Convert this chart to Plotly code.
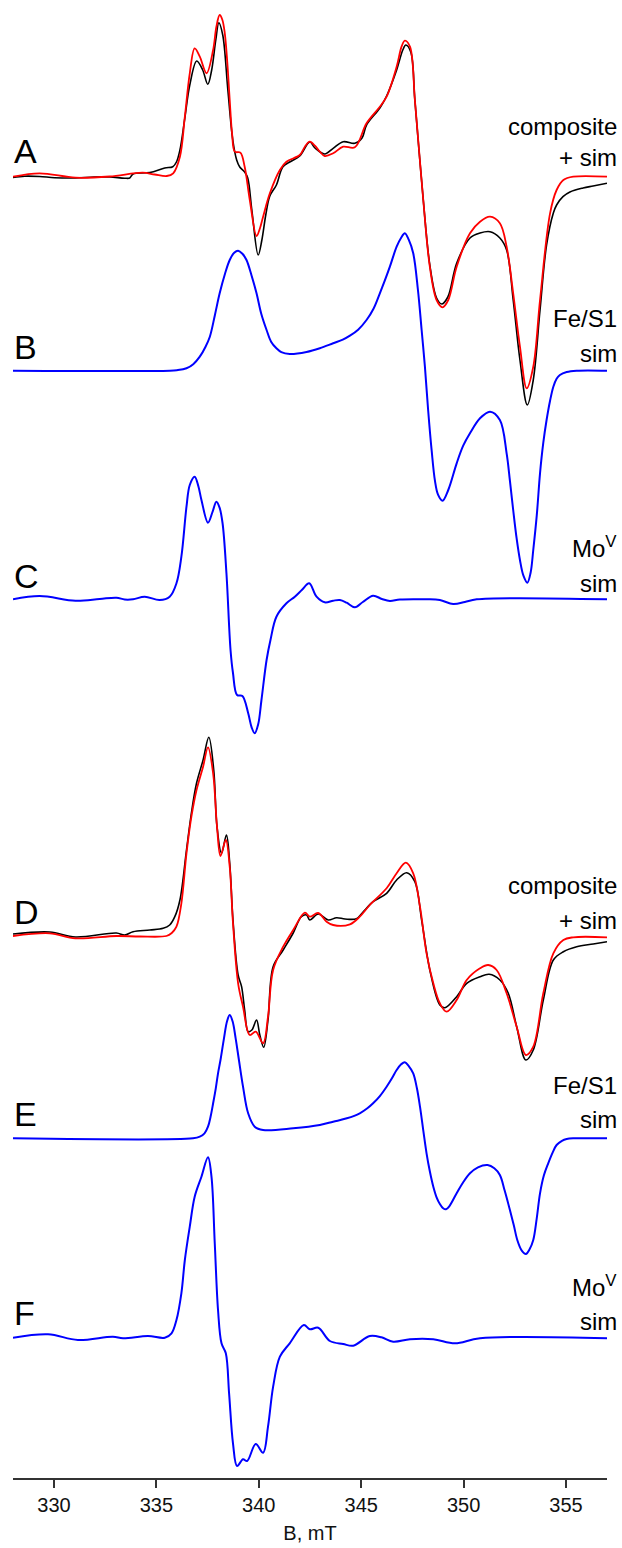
import plotly.graph_objects as go

# ---------------- data (B in mT, intensity in arbitrary units rel. to each trace's baseline) -------------
A_exp_B = [328.00, 328.57, 329.30, 330.03, 331.05, 331.95, 332.72, 333.45, 333.70, 333.86, 334.68, 335.41, 335.80, 335.98,
           336.15, 336.39, 336.63, 336.97, 337.26, 337.51, 337.70, 337.90, 338.05, 338.24, 338.49, 338.73, 338.92, 339.07,
           339.31, 339.46, 339.66, 339.97, 340.15, 340.34, 340.54, 340.86, 341.17, 341.51, 342.00, 342.49, 342.74, 343.22,
           343.63, 344.12, 344.69, 345.04, 345.26, 345.91, 346.24, 346.73, 347.03, 347.18, 347.42, 347.62, 348.03, 348.35,
           348.68, 348.93, 349.23, 349.66, 350.31, 350.80, 351.29, 351.77, 352.10, 352.42, 352.75, 353.11, 353.40, 353.73,
           354.05, 354.38, 354.54, 354.85, 355.19, 355.83, 356.32, 357.00]
A_exp_I = [-0.8, 0.5, 0.2, -1.0, -1.3, -0.3, -0.3, -1.5, -1.3, 2.7, 4.2, 8.7, 10.0, 14.7,
           26.7, 58.7, 91.7, 115.7, 106.7, 92.4, 106.7, 136.7, 154.0, 141.7, 86.7, 36.7, 16.7, 9.7,
           4.7, -1.3, -33.3, -78.3, -63.3, -38.3, -19.3, -8.3, 9.7, 14.7, 20.7, 34.7, 28.7, 22.7,
           28.4, 35.0, 33.4, 38.7, 51.7, 68.7, 80.7, 106.7, 126.7, 131.7, 124.7, 76.7, -23.3, -88.3,
           -121.3, -127.3, -120.3, -86.6, -61.3, -56.3, -55.0, -61.3, -73.3, -123.3, -183.3, -228.3, -203.3, -133.3,
           -68.3, -36.3, -28.3, -20.0, -15.3, -11.3, -9.3, -6.6]

A_sim_B = [328.00, 329.30, 331.05, 332.72, 334.33, 334.92, 335.51, 335.82, 336.15, 336.39, 336.63, 336.87, 337.12, 337.45,
           337.77, 337.93, 338.09, 338.22, 338.34, 338.46, 338.58, 338.70, 338.83, 339.10, 339.31, 339.56, 339.89, 340.05,
           340.21, 340.54, 341.03, 341.35, 342.00, 342.25, 342.49, 342.74, 342.98, 343.22, 343.63, 344.12, 344.69, 345.26,
           345.91, 346.24, 346.73, 346.97, 347.13, 347.38, 347.62, 347.83, 348.03, 348.35, 348.68, 348.97, 349.25, 349.66,
           350.31, 350.80, 351.29, 351.77, 352.10, 352.42, 352.75, 353.08, 353.40, 353.73, 354.22, 354.54, 354.87, 355.35,
           357.00]
A_sim_I = [0, 3.4, -1.0, 0.2, 4.0, 2.2, 0.7, 3.4, 20.0, 60.0, 103.4, 128.4, 120.0, 103.4,
           126.7, 150.0, 161.7, 157.0, 143.4, 115.0, 76.7, 42.0, 25.0, 24.0, 10.0, -23.3, -59.3, -52.0,
           -40.0, -16.6, 6.7, 15.0, 21.7, 30.0, 35.0, 31.0, 25.0, 20.7, 23.4, 30.0, 29.4, 53.4,
           70.0, 80.0, 110.0, 130.0, 136.0, 130.0, 76.7, 25.0, -23.3, -90.0, -123.3, -130.6, -123.3, -90.0,
           -56.6, -45.0, -40.0, -46.6, -70.0, -116.6, -170.0, -211.6, -190.0, -123.3, -36.6, -13.3, -3.3, 0,
           0]

B_sim_B = [328.00, 335.65, 336.00, 336.47, 336.80, 337.12, 337.40, 337.61, 337.85, 338.09, 338.35, 338.58, 338.80, 338.99,
           339.20, 339.40, 339.65, 339.89, 340.12, 340.38, 340.60, 340.86, 341.10, 341.51, 342.33, 342.98, 343.63, 344.10,
           344.45, 344.85, 345.26, 345.60, 345.91, 346.15, 346.40, 346.73, 346.95, 347.13, 347.32, 347.54, 347.77, 347.95,
           348.11, 348.27, 348.44, 348.60, 348.75, 348.97, 349.25, 349.66, 349.98, 350.31, 350.80, 351.29, 351.77, 352.10,
           352.26, 352.42, 352.59, 352.75, 352.92, 353.11, 353.27, 353.40, 353.57, 353.73, 353.89, 354.05, 354.22, 354.38,
           354.54, 354.70, 355.03, 355.52, 357.00]
B_sim_I = [0, 0, 0.5, 2.4, 6.5, 14.0, 24.0, 34.0, 55.0, 77.4, 97.0, 110.7, 118.0, 120.0,
           117.0, 110.7, 95.0, 77.4, 57.0, 40.7, 29.0, 22.4, 18.5, 16.7, 18.7, 22.4, 27.4, 31.0,
           35.0, 41.0, 50.7, 62.0, 77.4, 90.0, 104.0, 124.0, 133.0, 137.4, 131.0, 117.4, 80.7, 40.7,
           4.0, -40.0, -80.0, -110.0, -124.0, -130.0, -119.3, -92.6, -75.0, -62.6, -47.6, -41.0, -49.3, -82.6,
           -110.0, -139.3, -168.0, -189.3, -205.0, -212.0, -202.0, -179.3, -145.0, -102.6, -72.0, -49.3, -30.0, -16.0,
           -8.0, -4.3, -1.3, 0, 0]

C_sim_B = [328.00, 329.30, 331.05, 332.23, 333.05, 333.45, 333.86, 334.43, 335.16, 335.65, 335.98, 336.22, 336.47, 336.63,
           336.87, 337.05, 337.20, 337.52, 337.75, 337.93, 338.08, 338.23, 338.42, 338.62, 338.74, 338.94, 339.20, 339.48,
           339.65, 339.80, 339.97, 340.13, 340.38, 340.57, 340.86, 341.35, 341.76, 342.10, 342.46, 342.82, 343.22, 343.63,
           343.96, 344.29, 344.69, 345.08, 345.58, 346.01, 346.40, 346.89, 348.19, 348.84, 349.49, 350.06, 350.64, 357.00]
C_sim_I = [0, 3.3, -1.4, 0.3, 1.6, -0.2, 0, 2.6, -0.7, 2.6, 16.0, 42.6, 92.6, 114.3,
           122.6, 113.0, 99.3, 76.6, 88.0, 97.6, 92.0, 76.3, 26.3, -50.7, -73.7, -95.7, -96.7, -113.7,
           -128.0, -134.0, -125.0, -100.7, -60.7, -40.7, -17.4, -4.0, 2.6, 9.3, 16.0, 2.6, -3.0, -1.4,
           -0.7, -3.4, -8.0, -2.7, 3.6, 0.3, -1.7, -0.2, 0, -0.7, -4.7, -2.7, 0, 0]

D_exp_B = [328.00, 329.79, 331.05, 333.05, 333.45, 333.86, 334.68, 335.33, 335.65, 335.90, 336.15, 336.47, 336.71, 336.96,
           337.28, 337.56, 337.80, 337.96, 338.18, 338.42, 338.58, 338.74, 338.99, 339.16, 339.31, 339.48, 339.66, 339.89,
           340.05, 340.24, 340.45, 340.70, 341.19, 341.68, 342.08, 342.33, 342.49, 342.90, 343.39, 343.80, 344.21, 344.77,
           345.10, 345.58, 346.24, 346.73, 347.22, 347.62, 347.95, 348.35, 348.84, 349.09, 349.66, 350.15, 350.80, 351.25,
           351.77, 352.18, 352.59, 353.04, 353.40, 353.89, 354.38, 354.87, 355.52, 356.33, 357.00]
D_exp_I = [2.0, 4.0, -1.0, 3.0, 1.0, 4.3, 6.0, 7.7, 11.0, 19.3, 36.0, 86.0, 123.0, 152.7,
           176.0, 198.7, 166.0, 109.3, 82.7, 101.0, 73.0, 16.0, -39.0, -50.7, -74.0, -95.7, -94.0, -84.0,
           -99.0, -111.3, -84.0, -30.7, -14.0, 3.0, 19.3, 21.0, 16.0, 22.0, 16.0, 18.3, 17.0, 17.3,
           24.3, 34.3, 42.7, 56.0, 63.3, 54.3, 16.0, -34.0, -69.0, -71.7, -60.7, -47.3, -40.7, -38.3,
           -44.0, -57.3, -90.7, -124.0, -114.0, -64.0, -24.0, -15.7, -10.7, -8.0, -5.7]

D_sim_B = [328.00, 329.79, 331.05, 333.05, 334.19, 335.49, 335.75, 335.98, 336.22, 336.47, 336.71, 336.96, 337.28, 337.52,
           337.77, 337.96, 338.13, 338.39, 338.58, 338.74, 338.99, 339.23, 339.56, 339.85, 340.21, 340.45, 340.70, 341.19,
           341.68, 342.25, 342.49, 342.90, 343.31, 343.63, 344.45, 344.93, 345.42, 346.24, 346.73, 347.18, 347.54, 347.87,
           348.19, 348.52, 348.84, 349.17, 349.66, 350.15, 350.80, 351.20, 351.61, 352.10, 352.59, 353.04, 353.40, 353.89,
           354.38, 354.87, 355.35, 357.00]
D_sim_I = [0, 2.7, -2.3, 0, -0.5, 0, 3.0, 9.3, 32.7, 82.7, 119.3, 146.0, 169.3, 188.7,
           162.7, 109.3, 80.0, 96.0, 69.3, 13.0, -47.3, -70.7, -99.0, -95.7, -107.3, -80.7, -34.0, -10.7,
           6.0, 23.3, 19.3, 23.0, 14.3, 11.0, 11.7, 19.3, 31.0, 47.7, 62.7, 73.3, 62.7, 29.3,
           -17.3, -47.3, -67.3, -75.7, -64.0, -44.0, -32.3, -29.0, -34.0, -57.3, -90.7, -119.0, -110.7, -57.3,
           -17.3, -4.0, -1.3, -1.3]

E_sim_B = [328.00, 336.79, 337.12, 337.35, 337.52, 337.65, 337.77, 337.90, 338.01, 338.13, 338.30, 338.45, 338.58, 338.72,
           338.87, 339.03, 339.23, 339.48, 339.80, 340.21, 341.68, 342.98, 343.63, 344.30, 344.93, 345.30, 345.58, 345.90,
           346.24, 346.50, 346.73, 346.95, 347.13, 347.33, 347.54, 347.72, 347.87, 348.03, 348.19, 348.35, 348.52, 348.68,
           348.84, 349.00, 349.14, 349.30, 349.66, 349.98, 350.31, 350.70, 351.17, 351.50, 351.77, 352.00, 352.26, 352.45,
           352.62, 352.83, 353.04, 353.22, 353.40, 353.57, 353.73, 353.92, 354.13, 354.35, 354.54, 354.80, 355.03, 355.40,
           357.00]
E_sim_I = [0, 0, 1.6, 5.0, 11.6, 22.0, 35.0, 50.0, 65.0, 78.3, 100.0, 117.0, 123.3, 117.0,
           100.0, 78.3, 51.6, 25.0, 11.6, 8.3, 10.0, 13.3, 16.6, 20.0, 25.0, 30.0, 35.0, 42.0,
           51.6, 60.0, 68.3, 74.0, 76.0, 72.0, 65.0, 50.0, 31.6, 8.0, -15.0, -33.0, -48.4, -59.0,
           -65.7, -70.0, -71.0, -68.0, -55.0, -44.0, -35.0, -29.0, -26.7, -30.0, -36.7, -52.0, -71.7, -87.0,
           -101.7, -112.0, -115.7, -111.0, -101.7, -80.0, -55.0, -37.0, -25.0, -14.0, -6.7, -2.5, -0.7, 0,
           0]

F_sim_B = [328.00, 329.71, 331.17, 332.88, 333.37, 334.59, 335.41, 335.74, 335.98, 336.22, 336.39, 336.63, 336.87, 337.20,
           337.52, 337.69, 337.85, 338.01, 338.18, 338.39, 338.55, 338.74, 338.94, 339.23, 339.43, 339.85, 340.21, 340.45,
           340.70, 341.03, 341.51, 342.20, 342.49, 342.90, 343.47, 344.12, 344.61, 345.42, 345.99, 346.56, 347.38, 348.52,
           349.58, 350.80, 357.00]
F_sim_I = [0.3, 3.7, -2.0, 1.3, -0.3, 2.0, 0.3, 4.7, 18.0, 44.7, 78.0, 111.3, 141.3, 161.3,
           180.7, 161.3, 94.7, 28.0, -5.3, -15.3, -55.3, -105.3, -128.0, -121.3, -123.0, -106.0, -114.7, -88.7,
           -48.7, -18.7, -5.3, 13.0, 8.7, 10.3, -3.0, -6.0, -7.7, 2.0, 0.7, -3.7, -1.3, -1.3,
           -5.3, -0.3, -0.3]

# vertical stacking offsets (A..F) and labels
offsets = {"A": 1301.3, "B": 1107.3, "C": 878.7, "D": 542.0, "E": 339.7, "F": 140.0}
letters = ["A", "B", "C", "D", "E", "F"]
right_labels = {"A": ["composite", "+ sim"], "B": ["Fe/S1", "sim"], "C": ["Mo<sup>V</sup>", "sim"],
                "D": ["composite", "+ sim"], "E": ["Fe/S1", "sim"], "F": ["Mo<sup>V</sup>", "sim"]}
x_ticks = [330, 335, 340, 345, 350, 355]
x_title = "B, mT"

FONT = "Liberation Sans, Arial, sans-serif"
W, H = 622, 1548
ML, MR, MT, MB = 13, 15, 0, 70

fig = go.Figure()


def add(xs, ys, key, color, width):
    fig.add_trace(go.Scatter(x=xs, y=[v + offsets[key] for v in ys], mode="lines",
                             line=dict(color=color, width=width, shape="spline", smoothing=1.0),
                             showlegend=False, hoverinfo="skip"))


add(A_exp_B, A_exp_I, "A", "black", 1.6)
add(A_sim_B, A_sim_I, "A", "#ff0000", 1.8)
add(B_sim_B, B_sim_I, "B", "#0000ff", 2)
add(C_sim_B, C_sim_I, "C", "#0000ff", 2)
add(D_exp_B, D_exp_I, "D", "black", 1.6)
add(D_sim_B, D_sim_I, "D", "#ff0000", 1.8)
add(E_sim_B, E_sim_I, "E", "#0000ff", 2)
add(F_sim_B, F_sim_I, "F", "#0000ff", 2)

plot_h = H - MT - MB
# letter label centers (px from top) and right label line centers
letter_y = {"A": 151.5, "B": 347.0, "C": 575.8, "D": 912.0, "E": 1113.8, "F": 1312.8}
rl_y = {"A": (126.4, 158.0), "B": (318.0, 353.0), "C": (547.4, 583.0),
        "D": (885.4, 920.7), "E": (1085.4, 1119.7), "F": (1286.4, 1321.4)}

ann = []
for k in letters:
    ann.append(dict(text=k, xref="paper", yref="paper", x=-0.002, xanchor="left",
                    y=1 - (letter_y[k] - MT) / plot_h, yanchor="middle", showarrow=False,
                    font=dict(family=FONT, size=34, color="black")))
    for i, t in enumerate(right_labels[k]):
        ann.append(dict(text=t, xref="paper", yref="paper", x=(619 - ML) / (W - ML - MR), xanchor="right",
                        y=1 - (rl_y[k][i] - MT) / plot_h, yanchor="middle", showarrow=False,
                        font=dict(family=FONT, size=24, color="black")))

fig.update_layout(
    width=W, height=H, margin=dict(l=ML, r=MR, t=MT, b=MB),
    paper_bgcolor="white", plot_bgcolor="white",
    annotations=ann,
    xaxis=dict(range=[328, 357], tickvals=x_ticks, ticktext=[str(v) for v in x_ticks],
               showline=True, linecolor="#333333", linewidth=2, ticks="outside", ticklen=8, tickwidth=1.5,
               tickcolor="#333333", showgrid=False, zeroline=False,
               tickfont=dict(family=FONT, size=20, color="#111111"),
               title=dict(text=x_title, font=dict(family=FONT, size=20, color="#111111"), standoff=11)),
    yaxis=dict(range=[0, plot_h], visible=False, showgrid=False, zeroline=False),
)
fig.write_html("out.html", config={"displayModeBar": False},
               post_script="document.body.style.margin='0px';document.body.style.overflow='hidden';")
